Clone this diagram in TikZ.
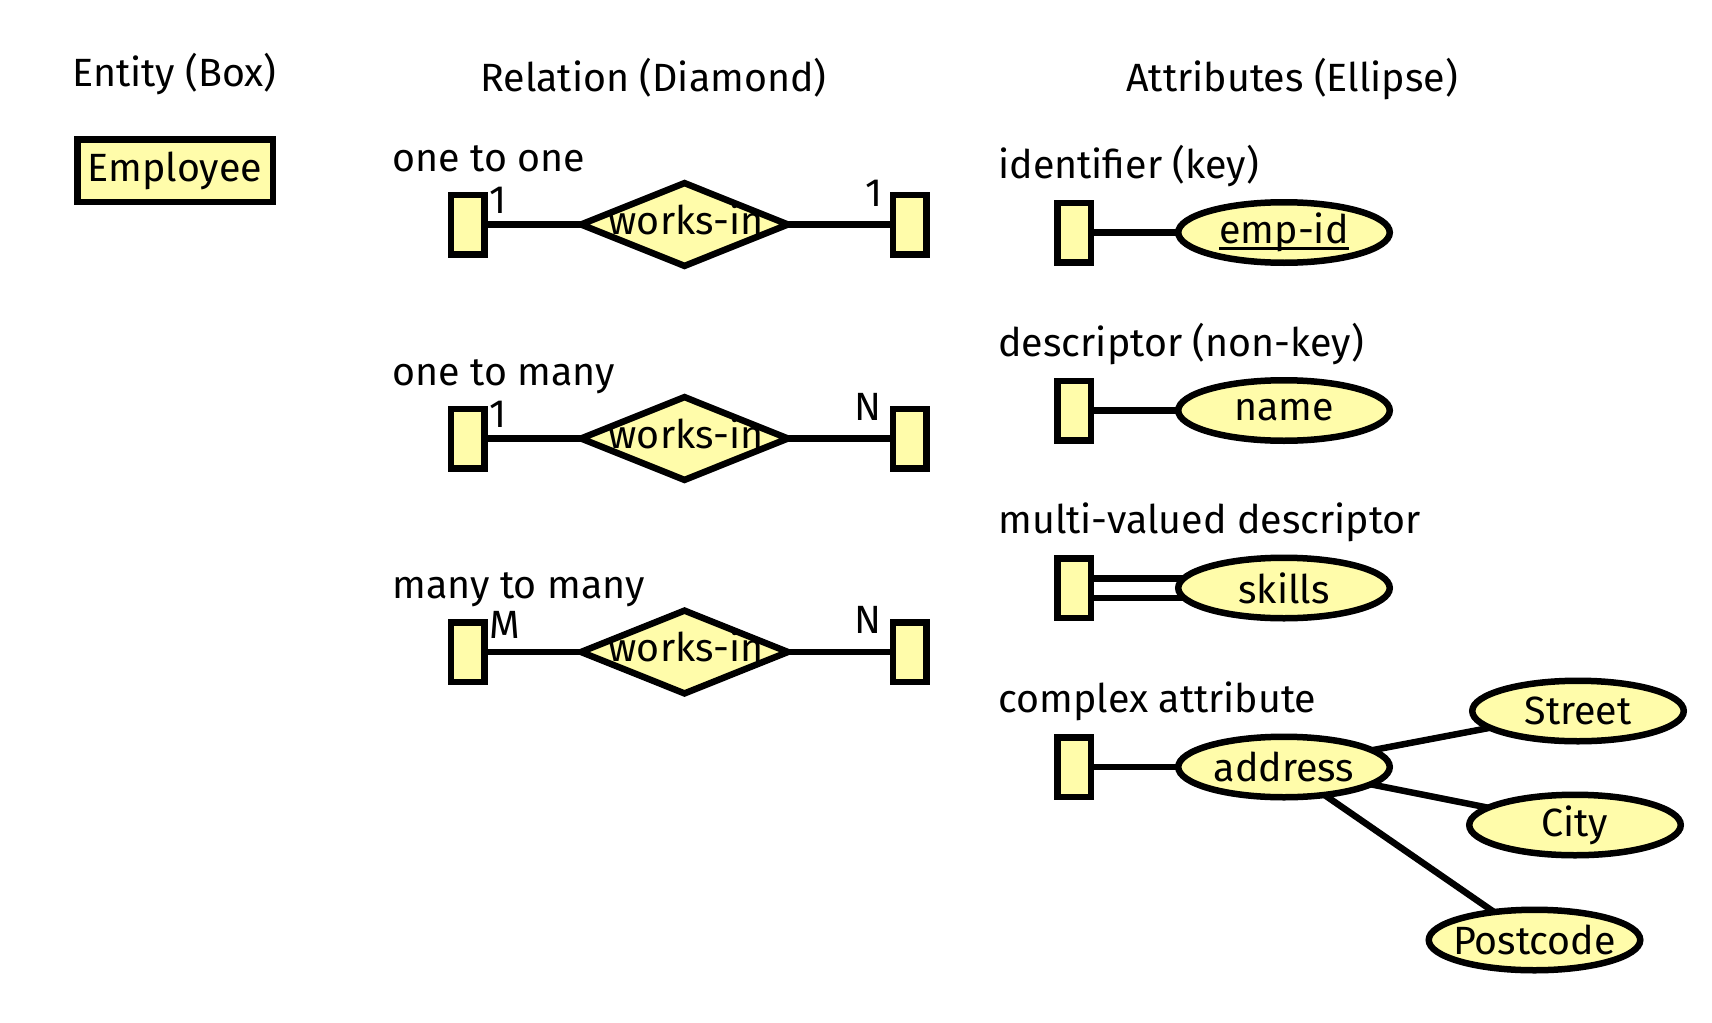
\documentclass[tikz,border=0pt]{standalone}
\usepackage{fontspec}
\setmainfont{Fira Sans}
\usetikzlibrary{shapes.geometric,backgrounds}
\definecolor{erfill}{RGB}{255,252,170}
\newcommand{\keyul}[1]{{\setbox0\hbox{#1}\rlap{\rule[-3.2pt]{\wd0}{1.5pt}}#1}}
\begin{document}
\begin{tikzpicture}[x=0.5pt,y=-0.5pt,
  every node/.style={font=\fontsize{19.7}{23}\selectfont, text=black},
  txt/.style={inner sep=0pt, anchor=base west},
  lbl/.style={inner sep=0pt},
  ent/.style={draw, fill=erfill, line width=3.25pt, inner sep=0pt},
  smallent/.style={ent, minimum width=16.75pt, minimum height=29.75pt},
  rel/.style={draw, fill=erfill, line width=3.25pt, diamond, inner sep=0pt,
    minimum width=104.75pt, minimum height=42.75pt},
  attr/.style={draw, fill=erfill, line width=3.25pt, ellipse, inner ysep=0pt,
    inner xsep=-4pt, minimum width=105.75pt, minimum height=30.25pt},
  conn/.style={line width=3.25pt}]
\useasboundingbox (0,0) rectangle (1712,1022);

% headings
\node[txt] (hEnt) at (72,87) {Entity (Box)};
\node[txt] (hRel) at (480,91) {Relation (Diamond)};
\node[txt] (hAtt) at (1126,92) {Attributes (Ellipse)};

% entity
\node[ent, minimum width=97.75pt, minimum height=31.25pt] (emp) at (175,170.5) {Employee};

% relations
\node[txt] (l11) at (392,171) {one to one};
\node[smallent] (a1) at (467.5,224.5) {};
\node[rel] (r1) at (684.5,224.5) {};
\node[lbl] (r1t) at (686,219) {works-in};
\node[smallent] (b1) at (909.5,224.5) {};
\node[lbl] (c1a) at (498,200) {1};
\node[lbl] (c1b) at (874,193) {1};

\node[txt] (l1n) at (392,385) {one to many};
\node[smallent] (a2) at (467.5,438.5) {};
\node[rel] (r2) at (684.5,438.5) {};
\node[lbl] (r2t) at (686,433) {works-in};
\node[smallent] (b2) at (909.5,438.5) {};
\node[lbl] (c2a) at (498,414) {1};
\node[lbl] (c2b) at (868,407) {N};

\node[txt] (lmn) at (392,598) {many to many};
\node[smallent] (a3) at (467.5,652) {};
\node[rel] (r3) at (684.5,652) {};
\node[lbl] (r3t) at (686,646.5) {works-in};
\node[smallent] (b3) at (909.5,652) {};
\node[lbl] (c3a) at (505,625) {M};
\node[lbl] (c3b) at (868,620) {N};

% attributes
\node[txt] (lid) at (998,178) {identifier (key)};
\node[smallent] (e1) at (1074,232.5) {};
\node[attr] (t1) at (1284,232.5) {\keyul{emp-id}};

\node[txt] (lds) at (998,356) {descriptor (non-key)};
\node[smallent] (e2) at (1074,410.5) {};
\node[attr] (t2) at (1284,410.5) {name};

\node[txt] (lmv) at (998,533) {multi-valued descriptor};
\node[smallent] (e3) at (1074,588) {};
\node[attr] (t3) at (1284,588) {skills};

\node[txt] (lca) at (998,712) {complex attribute};
\node[smallent] (e4) at (1074,767) {};
\node[attr] (t4) at (1284,767) {address};
\node[attr] (st) at (1578,711) {Street};
\node[attr] (ci) at (1575,825) {City};
\node[attr] (pc) at (1534.5,940) {Postcode};

\begin{pgfonlayer}{background}
  \draw[conn] (a1.center) -- (r1.center) -- (b1.center);
  \draw[conn] (a2.center) -- (r2.center) -- (b2.center);
  \draw[conn] (a3.center) -- (r3.center) -- (b3.center);
  \draw[conn] (e1.center) -- (t1.center);
  \draw[conn] (e2.center) -- (t2.center);
  \draw[conn, double=white, double distance=6.5pt] (e3.center) -- (t3.center);
  \draw[conn] (e4.center) -- (t4.center);
  \draw[conn] (t4.center) -- (st.center);
  \draw[conn] (t4.center) -- (ci.center);
  \draw[conn] (t4.center) -- (pc.center);
\end{pgfonlayer}
\end{tikzpicture}
\end{document}
